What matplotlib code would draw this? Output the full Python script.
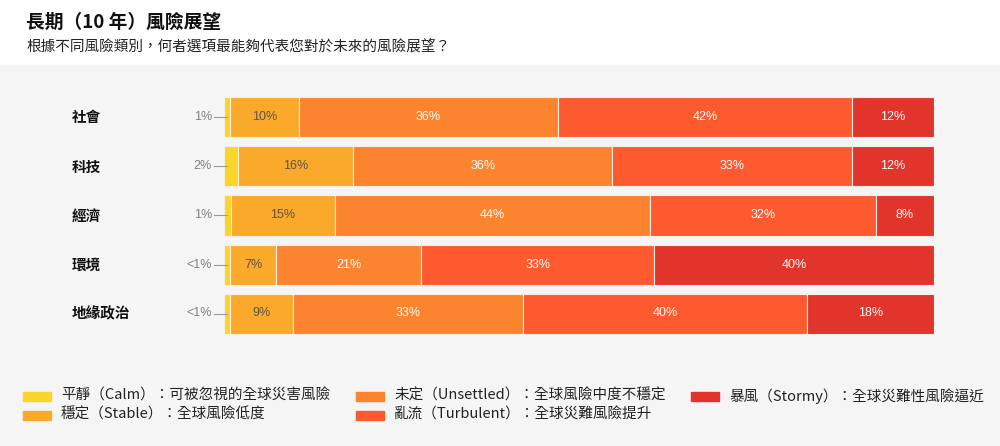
import numpy as np
import matplotlib
matplotlib.use("Agg")
import matplotlib.pyplot as plt
from matplotlib.patches import Rectangle
from matplotlib import transforms

plt.rcParams['font.family'] = ['Noto Sans CJK TC', 'DejaVu Sans']

# data (percent of respondents)
categories = ["社會", "科技", "經濟", "環境", "地緣政治"]
series_names = [
    "平靜（Calm）：可被忽視的全球災害風險",
    "穩定（Stable）：全球風險低度",
    "未定（Unsettled）：全球風險中度不穩定",
    "亂流（Turbulent）：全球災難風險提升",
    "暴風（Stormy）：全球災難性風險逼近",
]
calm = [0.9, 2.0, 1.0, 0.85, 0.85]
stable = [9.6, 16.2, 14.6, 6.5, 8.9]
unsettled = [36.5, 36.5, 44.4, 20.4, 32.4]
turbulent = [41.5, 33.8, 31.8, 32.8, 40.0]
stormy = [11.5, 11.5, 8.2, 39.4, 17.9]

calm_labels = ["1%", "2%", "1%", "<1%", "<1%"]
stable_labels = ["10%", "16%", "15%", "7%", "9%"]
unsettled_labels = ["36%", "36%", "44%", "21%", "33%"]
turbulent_labels = ["42%", "33%", "32%", "33%", "40%"]
stormy_labels = ["12%", "12%", "8%", "40%", "18%"]

colors = ["#fbd42b", "#fba92a", "#fc842f", "#fd5a2f", "#e1342a"]
text_colors = [None, "#5e5446", "white", "white", "white"]

values = np.array([calm, stable, unsettled, turbulent, stormy])
labels = [calm_labels, stable_labels, unsettled_labels, turbulent_labels, stormy_labels]
values = values / values.sum(axis=0) * 100

W, H = 1000, 446
fig = plt.figure(figsize=(W / 100, H / 100), dpi=100)
fig.patches.append(Rectangle((0, 0), 1, 1 - 65 / H, transform=fig.transFigure,
                             color="#f5f5f5", zorder=-5))

fig.text(26 / W, 1 - 22 / H, "長期（10 年）風險展望", fontsize=13.5, fontweight="bold",
         va="center", ha="left", color="#111111")
fig.text(26 / W, 1 - 46 / H, "根據不同風險類別，何者選項最能夠代表您對於未來的風險展望？",
         fontsize=10.5, va="center", ha="left", color="#222222")

ax = fig.add_axes([224 / W, 1 - 338 / H, 710 / W, 245 / H])
ax.set_zorder(1)
ax.set_facecolor("none")
ax.set_xlim(0, 100)
ax.set_ylim(len(categories) - 0.5, -0.5)
ax.axis("off")

y = np.arange(len(categories))
left = np.zeros(len(categories))
for i in range(len(values)):
    ax.barh(y, values[i], left=left, height=40 / 49, color=colors[i],
            edgecolor="#f7efe6", linewidth=0.8)
    for j in range(len(categories)):
        if i == 0:
            ax.text(-1.7, y[j], labels[i][j], ha="right", va="center", fontsize=9,
                    color="#808080", family=["Liberation Sans", "DejaVu Sans"])
            ax.plot([-1.45, 0.4], [y[j], y[j]], color="#9a9a9a", lw=0.8, clip_on=False)
        else:
            ax.text(left[j] + values[i][j] / 2, y[j], labels[i][j], ha="center",
                    va="center", fontsize=9, color=text_colors[i],
                    family=["Liberation Sans", "DejaVu Sans"])
    left = left + values[i]

trans = transforms.blended_transform_factory(fig.transFigure, ax.transData)
for j, cat in enumerate(categories):
    ax.text(72 / W, y[j], cat, transform=trans, ha="left", va="center",
            fontsize=10.5, fontweight="bold", color="#111111")

# legend, drawn by hand to keep the column positions
col_x = [23, 356, 691]
row_y = [396, 415]
slots = [(0, 0), (0, 1), (1, 0), (1, 1), (2, 0)]
for i, (c, r) in enumerate(slots):
    fig.patches.append(Rectangle((col_x[c] / W, 1 - (row_y[r] + 4.5) / H), 28 / W, 9 / H,
                                 transform=fig.transFigure, color=colors[i], zorder=2))
    fig.text((col_x[c] + 38) / W, 1 - row_y[r] / H, series_names[i], fontsize=10.5,
             va="center", ha="left", color="#222222")

plt.savefig("out.png", dpi=100)
